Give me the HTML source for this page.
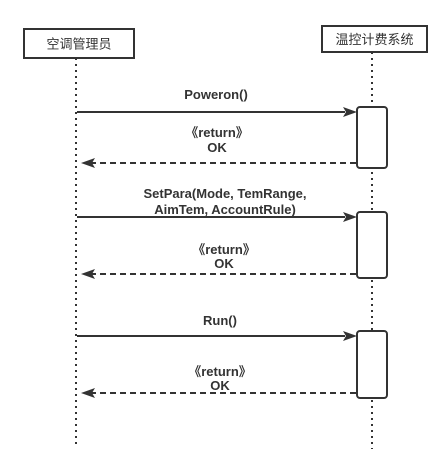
<!DOCTYPE html>
<html><head><meta charset="utf-8"><style>
html,body{margin:0;padding:0;background:#fff;width:447px;height:475px;overflow:hidden}
svg text{font-family:"Liberation Sans","Noto Sans CJK SC",sans-serif;fill:#333}
.b{font-weight:bold;font-size:13px}
</style></head><body>
<svg width="447" height="475" xmlns="http://www.w3.org/2000/svg">
<g stroke="#333" stroke-width="2" stroke-dasharray="2,4" fill="none">
<line x1="76" y1="58" x2="76" y2="446"/>
<line x1="372" y1="52" x2="372" y2="449"/>
</g>
<rect x="24" y="29" width="110" height="29" fill="#fff" stroke="#333" stroke-width="2"/>
<text x="79" y="48.5" font-size="13" text-anchor="middle">空调管理员</text>
<rect x="322" y="26" width="105" height="26" fill="#fff" stroke="#333" stroke-width="2"/>
<text x="374.5" y="44" font-size="13" text-anchor="middle">温控计费系统</text>
<g fill="#fff" stroke="#333" stroke-width="2">
<rect x="357" y="107" width="30" height="61" rx="3"/>
<rect x="357" y="212" width="30" height="66" rx="3"/>
<rect x="357" y="331" width="30" height="67" rx="3"/>
</g>
<g stroke="#333" stroke-width="2">
<line x1="77" y1="112" x2="345" y2="112"/>
<line x1="77" y1="217" x2="345" y2="217"/>
<line x1="77" y1="336" x2="345" y2="336"/>
<g stroke-dasharray="6,4">
<line x1="356" y1="163" x2="86" y2="163"/>
<line x1="356" y1="274" x2="86" y2="274"/>
<line x1="356" y1="393" x2="86" y2="393"/>
</g>
</g>
<g fill="#333">
<polygon points="357,112 343,107 346,112 343,117"/>
<polygon points="357,217 343,212 346,217 343,222"/>
<polygon points="357,336 343,331 346,336 343,341"/>
<polygon points="81,163 95,158 92,163 95,168"/>
<polygon points="81,274 95,269 92,274 95,279"/>
<polygon points="81,393 95,388 92,393 95,398"/>
</g>
<g text-anchor="middle">
<text class="b" x="216" y="99">Poweron()</text>
<text class="b" x="217" y="137">《return》</text>
<text class="b" x="217" y="152">OK</text>
<text class="b" x="225" y="198">SetPara(Mode, TemRange,</text>
<text class="b" x="225" y="214">AimTem, AccountRule)</text>
<text class="b" x="224" y="254">《return》</text>
<text class="b" x="224" y="268">OK</text>
<text class="b" x="220" y="325">Run()</text>
<text class="b" x="220" y="376">《return》</text>
<text class="b" x="220" y="390">OK</text>
</g>
</svg>
</body></html>
